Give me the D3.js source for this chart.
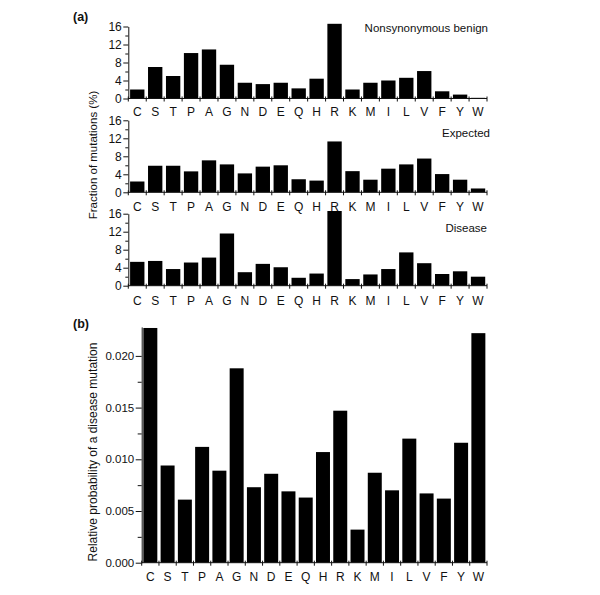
<!DOCTYPE html>
<html><head><meta charset="utf-8">
<script src="https://cdn.jsdelivr.net/npm/d3@7"></script>
<style>body{margin:0;background:#fff}svg{display:block;font-family:"Liberation Sans",Arial,Helvetica,sans-serif}</style>
</head><body><svg id="c" width="600" height="595"></svg>
<script>
const categories = ["C","S","T","P","A","G","N","D","E","Q","H","R","K","M","I","L","V","F","Y","W"];
const benign   = [2.0, 7.0, 5.0, 10.1, 10.9, 7.5, 3.5, 3.2, 3.5, 2.25, 4.4, 16.6, 2.0, 3.5, 4.0, 4.6, 6.1, 1.6, 0.87, 0.15];
const expected = [2.4, 5.9, 5.9, 4.65, 7.1, 6.2, 4.2, 5.7, 6.0, 2.9, 2.6, 11.3, 4.7, 2.8, 5.25, 6.2, 7.5, 4.05, 2.8, 0.85];
const disease  = [5.3, 5.5, 3.7, 5.15, 6.25, 11.6, 3.0, 4.85, 4.1, 1.76, 2.7, 16.6, 1.47, 2.5, 3.7, 7.4, 5.0, 2.6, 3.2, 2.0];
const relProb  = [0.0227, 0.0094, 0.0061, 0.0112, 0.0089, 0.0188, 0.0073, 0.0086, 0.0069, 0.0063, 0.0107, 0.0147, 0.0032, 0.0087, 0.0070, 0.0120, 0.0067, 0.0062, 0.0116, 0.0222];
const panelATitles = ["Nonsynonymous benign", "Expected", "Disease"];
const panelATicks = [0, 4, 8, 12, 16];
const panelAMinor = [2, 6, 10, 14];
const panelBTicks = [0, 0.005, 0.010, 0.015, 0.020];
const panelBMinor = [0.0025, 0.0075, 0.0125, 0.0175];
const panelBMax = 0.0228;

const svg = d3.select("#c");
const ink = "#111";
const fs = "12px";

function catAxis(g, x, y0) {
  const step = x.step();
  const x0 = x.range()[0];
  g.append("line").attr("x1", x.range()[0]).attr("x2", x.range()[1])
    .attr("y1", y0).attr("y2", y0).attr("stroke", ink).attr("stroke-width", 1);
  g.selectAll("line.tk").data(d3.range(categories.length + 1)).join("line")
    .attr("class", "tk")
    .attr("x1", i => x0 + i * step).attr("x2", i => x0 + i * step)
    .attr("y1", y0 - 2).attr("y2", y0 + 3).attr("stroke", ink);
}

function catLabels(g, x, yb) {
  g.selectAll("text.cl").data(categories).join("text")
    .attr("class", "cl")
    .attr("x", d => x(d) + x.bandwidth() / 2).attr("y", yb)
    .attr("text-anchor", "middle").attr("font-size", fs).attr("fill", ink)
    .text(d => d);
}

// Panel (a)
const xa = d3.scaleBand().domain(categories).range([128.3, 487]).paddingInner(0.2).paddingOuter(0.1);
const rows = [
  {vals: benign, y0: 98.5, title: panelATitles[0], tx: 488, ty: 32, lab: 116},
  {vals: expected, y0: 192.3, title: panelATitles[1], tx: 490, ty: 137, lab: 211},
  {vals: disease, y0: 285.7, title: panelATitles[2], tx: 487, ty: 232, lab: 305}
];
rows.forEach(r => {
  const g = svg.append("g");
  const y = d3.scaleLinear().domain([0, 16]).range([r.y0, r.y0 - 72]);
  g.selectAll("rect").data(r.vals).join("rect")
    .attr("x", (d, i) => xa(categories[i])).attr("width", xa.bandwidth())
    .attr("y", d => y(d)).attr("height", d => y(0) - y(d)).attr("fill", "#000");
  const ya = g.append("g").attr("transform", `translate(${xa.range()[0]},0)`)
    .call(d3.axisLeft(y).tickValues(panelATicks).tickSize(5).tickSizeOuter(0).tickPadding(1.5).tickFormat(d3.format("d")));
  ya.selectAll("text").attr("font-size", fs).attr("fill", ink).attr("font-family", null);
  ya.selectAll("line,path").attr("stroke", ink);
  const ym = g.append("g").attr("transform", `translate(${xa.range()[0]},0)`)
    .call(d3.axisLeft(y).tickValues(panelAMinor).tickSize(3).tickFormat(""));
  ym.select("path").remove();
  ym.selectAll("line").attr("stroke", ink);
  catAxis(g, xa, r.y0);
  catLabels(g, xa, r.lab);
  g.append("text").attr("x", r.tx).attr("y", r.ty).attr("text-anchor", "end")
    .attr("font-size", "11.5px").attr("fill", ink).text(r.title);
});
svg.append("text").attr("transform", "translate(97,155) rotate(-90)")
  .attr("text-anchor", "middle").attr("font-size", "11.5px").attr("fill", ink)
  .text("Fraction of mutations (%)");
svg.append("text").attr("x", 73).attr("y", 21).attr("font-weight", "bold")
  .attr("font-size", "12.5px").attr("fill", ink).text("(a)");

// Panel (b)
const xb = d3.scaleBand().domain(categories).range([141.7, 487]).paddingInner(0.19).paddingOuter(0.095);
const yb = d3.scaleLinear().domain([0, panelBMax]).range([562.7, 562.7 - panelBMax * 10340]);
const gb = svg.append("g");
gb.selectAll("rect").data(relProb).join("rect")
  .attr("x", (d, i) => xb(categories[i])).attr("width", xb.bandwidth())
  .attr("y", d => yb(d)).attr("height", d => yb(0) - yb(d)).attr("fill", "#000");
const yba = gb.append("g").attr("transform", `translate(${xb.range()[0]},0)`)
  .call(d3.axisLeft(yb).tickValues(panelBTicks).tickSize(6).tickSizeOuter(0).tickPadding(1.5).tickFormat(d3.format(".3f")));
yba.selectAll("text").attr("font-size", "11.5px").attr("fill", ink).attr("font-family", null);
yba.selectAll("line,path").attr("stroke", ink);
const ybm = gb.append("g").attr("transform", `translate(${xb.range()[0]},0)`)
  .call(d3.axisLeft(yb).tickValues(panelBMinor).tickSize(4).tickFormat(""));
ybm.select("path").remove();
ybm.selectAll("line").attr("stroke", ink);
catAxis(gb, xb, 562.7);
catLabels(gb, xb, 581);
svg.append("text").attr("transform", "translate(97,452) rotate(-90)")
  .attr("text-anchor", "middle").attr("font-size", "12px").attr("fill", ink)
  .text("Relative probability of a disease mutation");
svg.append("text").attr("x", 73).attr("y", 328).attr("font-weight", "bold")
  .attr("font-size", "12.5px").attr("fill", ink).text("(b)");
</script>
</body></html>
